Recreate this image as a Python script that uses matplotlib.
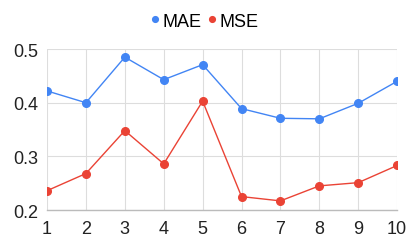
import matplotlib.pyplot as plt

plt.rcParams["font.family"] = ["Liberation Sans", "DejaVu Sans"]

x_labels = [1, 2, 3, 4, 5, 6, 7, 8, 9, 10]
mae = [0.422, 0.400, 0.485, 0.443, 0.471, 0.389, 0.371, 0.370, 0.399, 0.440]
mse = [0.236, 0.268, 0.348, 0.286, 0.403, 0.225, 0.217, 0.245, 0.251, 0.283]

BLUE = "#4285F4"
RED = "#EA4335"


def main():
    fig = plt.figure(figsize=(4.09, 2.53), dpi=100)
    ax = fig.add_axes([0.115, 0.166, 0.856, 0.636])

    ax.plot(x_labels, mae, color=BLUE, marker="o", markersize=5.5, linewidth=1, label="MAE")
    ax.plot(x_labels, mse, color=RED, marker="o", markersize=5.5, linewidth=1, label="MSE")

    ax.set_xlim(1, 10)
    ax.set_ylim(0.2, 0.5)
    ax.set_xticks(x_labels)
    ax.set_yticks([0.2, 0.3, 0.4, 0.5])
    ax.set_yticklabels(["0.2", "0.3", "0.4", "0.5"])
    ax.tick_params(length=0, labelsize=13, colors="#222222", pad=6)
    ax.tick_params(axis="x", pad=7)

    ax.grid(True, color="#dddddd", linewidth=0.8)
    ax.set_axisbelow(True)
    for side in ["top", "left", "right"]:
        ax.spines[side].set_visible(False)
    ax.spines["bottom"].set_color("#bbbbbb")
    ax.spines["bottom"].set_linewidth(1)

    leg = fig.legend(
        loc="center",
        bbox_to_anchor=(0.5, 0.912),
        ncol=2,
        frameon=False,
        fontsize=13,
        handlelength=0.5,
        handletextpad=0.2,
        columnspacing=0.3,
        markerscale=0.75,
    )
    for line in leg.get_lines():
        line.set_linestyle("none")

    fig.savefig("out.png", dpi=100)
    plt.close(fig)


if __name__ == "__main__":
    main()
